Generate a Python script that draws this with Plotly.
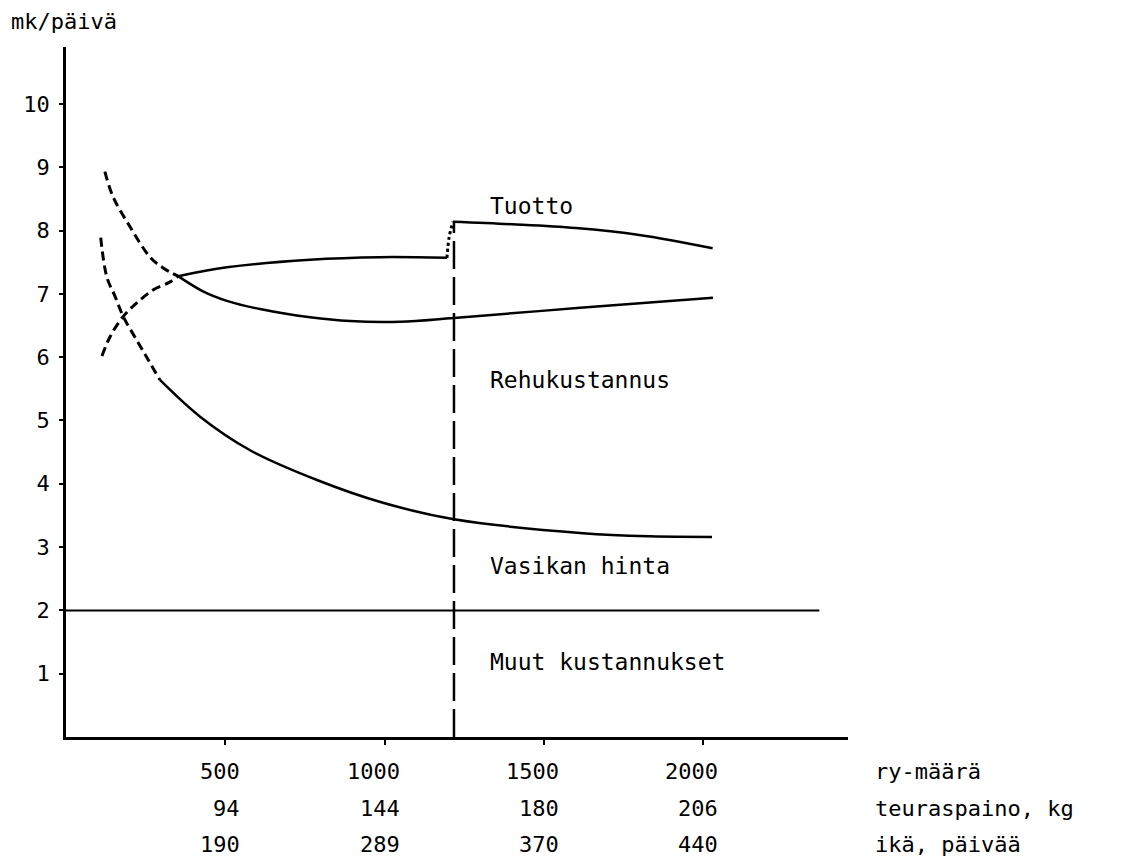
import plotly.graph_objects as go

# x axis: ry-määrä ; y axis: mk/päivä
TICK_X = [500, 1000, 1500, 2000]
TEURASPAINO = ["94", "144", "180", "206"]
IKA = ["190", "289", "370", "440"]
ROW_NAMES = ["ry-määrä", "teuraspaino, kg", "ikä, päivää"]

# Tuotto (revenue)
tuotto_dash_x = [113, 138, 179, 223, 273, 327, 352]
tuotto_dash_y = [6.02, 6.32, 6.64, 6.86, 7.06, 7.19, 7.28]
tuotto_x = [352, 505, 766, 986, 1196]
tuotto_y = [7.28, 7.42, 7.54, 7.58, 7.57]
tuotto_jump_x = [1196, 1203, 1215]
tuotto_jump_y = [7.57, 7.90, 8.14]
tuotto2_x = [1215, 1400, 1600, 1800, 2030]
tuotto2_y = [8.14, 8.10, 8.04, 7.93, 7.72]

# Rehukustannus (feed cost, cumulative)
rehu_dash_x = [122, 148, 201, 264, 305, 352]
rehu_dash_y = [8.93, 8.53, 8.06, 7.58, 7.41, 7.28]
rehu_x = [352, 430, 505, 609, 766, 892, 1050, 1218, 1614, 2031]
rehu_y = [7.28, 7.04, 6.89, 6.76, 6.63, 6.57, 6.56, 6.62, 6.78, 6.94]

# Vasikan hinta (calf price, cumulative)
vasikka_dash_x = [109, 128, 154, 180, 222, 258, 295]
vasikka_dash_y = [7.89, 7.27, 6.96, 6.64, 6.27, 5.96, 5.64]
vasikka_x = [295, 421, 578, 788, 995, 1218, 1623, 1834, 2028]
vasikka_y = [5.64, 5.06, 4.53, 4.06, 3.70, 3.44, 3.22, 3.17, 3.16]

# Muut kustannukset (other costs)
muut_x = [0, 2365]
muut_y = [2, 2]

# optimum
opt_x = [1218, 1218]
opt_y = [0, 8.14]

FONT = "DejaVu Sans Mono"
LW = 2.5

fig = go.Figure()


def add_line(x, y, dash="solid", shape="spline", width=LW):
    fig.add_trace(go.Scatter(x=x, y=y, mode="lines",
                             line=dict(color="black", width=width, dash=dash, shape=shape,
                                       smoothing=1.0),
                             hoverinfo="skip"))


add_line(muut_x, muut_y, shape="linear", width=2)
add_line(opt_x, opt_y, dash="28px,8px", shape="linear", width=2.5)

add_line(tuotto_dash_x, tuotto_dash_y, dash="9px,5px", width=3)
add_line(tuotto_x, tuotto_y)
add_line(tuotto_jump_x, tuotto_jump_y, dash="dot", width=3)
add_line(tuotto2_x, tuotto2_y)

add_line(rehu_dash_x, rehu_dash_y, dash="9px,5px", width=3)
add_line(rehu_x, rehu_y)

add_line(vasikka_dash_x, vasikka_dash_y, dash="9px,5px", width=3)
add_line(vasikka_x, vasikka_y)

# curve labels
labels = [("Tuotto", 8.39), ("Rehukustannus", 5.64), ("Vasikan hinta", 2.70), ("Muut kustannukset", 1.18)]
for txt, yy in labels:
    fig.add_annotation(x=1325, y=yy, text=txt, showarrow=False, xanchor="left", yanchor="middle",
                       font=dict(family=FONT, size=23, color="black"))

# three rows of x labels
rows = [[str(v) for v in TICK_X], TEURASPAINO, IKA]
shifts = [-34, -71, -107]
for row, shift, name in zip(rows, shifts, ROW_NAMES):
    for xv, txt in zip(TICK_X, row):
        fig.add_annotation(x=xv, xref="x", y=0, yref="paper", yshift=shift, xshift=17,
                           text=txt, showarrow=False, xanchor="right", yanchor="middle",
                           font=dict(family=FONT, size=22, color="black"))
    fig.add_annotation(x=1.032, xref="paper", y=0, yref="paper", yshift=shift,
                       text=name, showarrow=False, xanchor="left", yanchor="middle",
                       font=dict(family=FONT, size=22, color="black"))

fig.add_annotation(x=-0.0716, xref="paper", y=1, yref="paper", yshift=39, borderpad=0,
                   text="mk/päivä", showarrow=False, xanchor="left", yanchor="top",
                   font=dict(family=FONT, size=22, color="black"))

fig.update_layout(
    width=1122, height=865,
    margin=dict(l=58, r=282, t=39, b=136),
    plot_bgcolor="white", paper_bgcolor="white",
    showlegend=False,
    font=dict(family=FONT, color="black", size=22),
    xaxis=dict(range=[0, 2455], showline=True, linewidth=2.5, linecolor="black",
               showgrid=False, zeroline=False, ticks="outside", tickvals=TICK_X,
               ticklen=5, tickwidth=2, tickcolor="black", showticklabels=False),
    yaxis=dict(range=[0, 10.9], showline=True, linewidth=2.5, linecolor="black",
               showgrid=False, zeroline=False, ticks="outside", tickvals=list(range(1, 11)),
               ticklen=4, tickwidth=2, tickcolor="black", ticklabelstandoff=5,
               tickfont=dict(family=FONT, size=22, color="black")),
)

fig.write_html("out.html")
